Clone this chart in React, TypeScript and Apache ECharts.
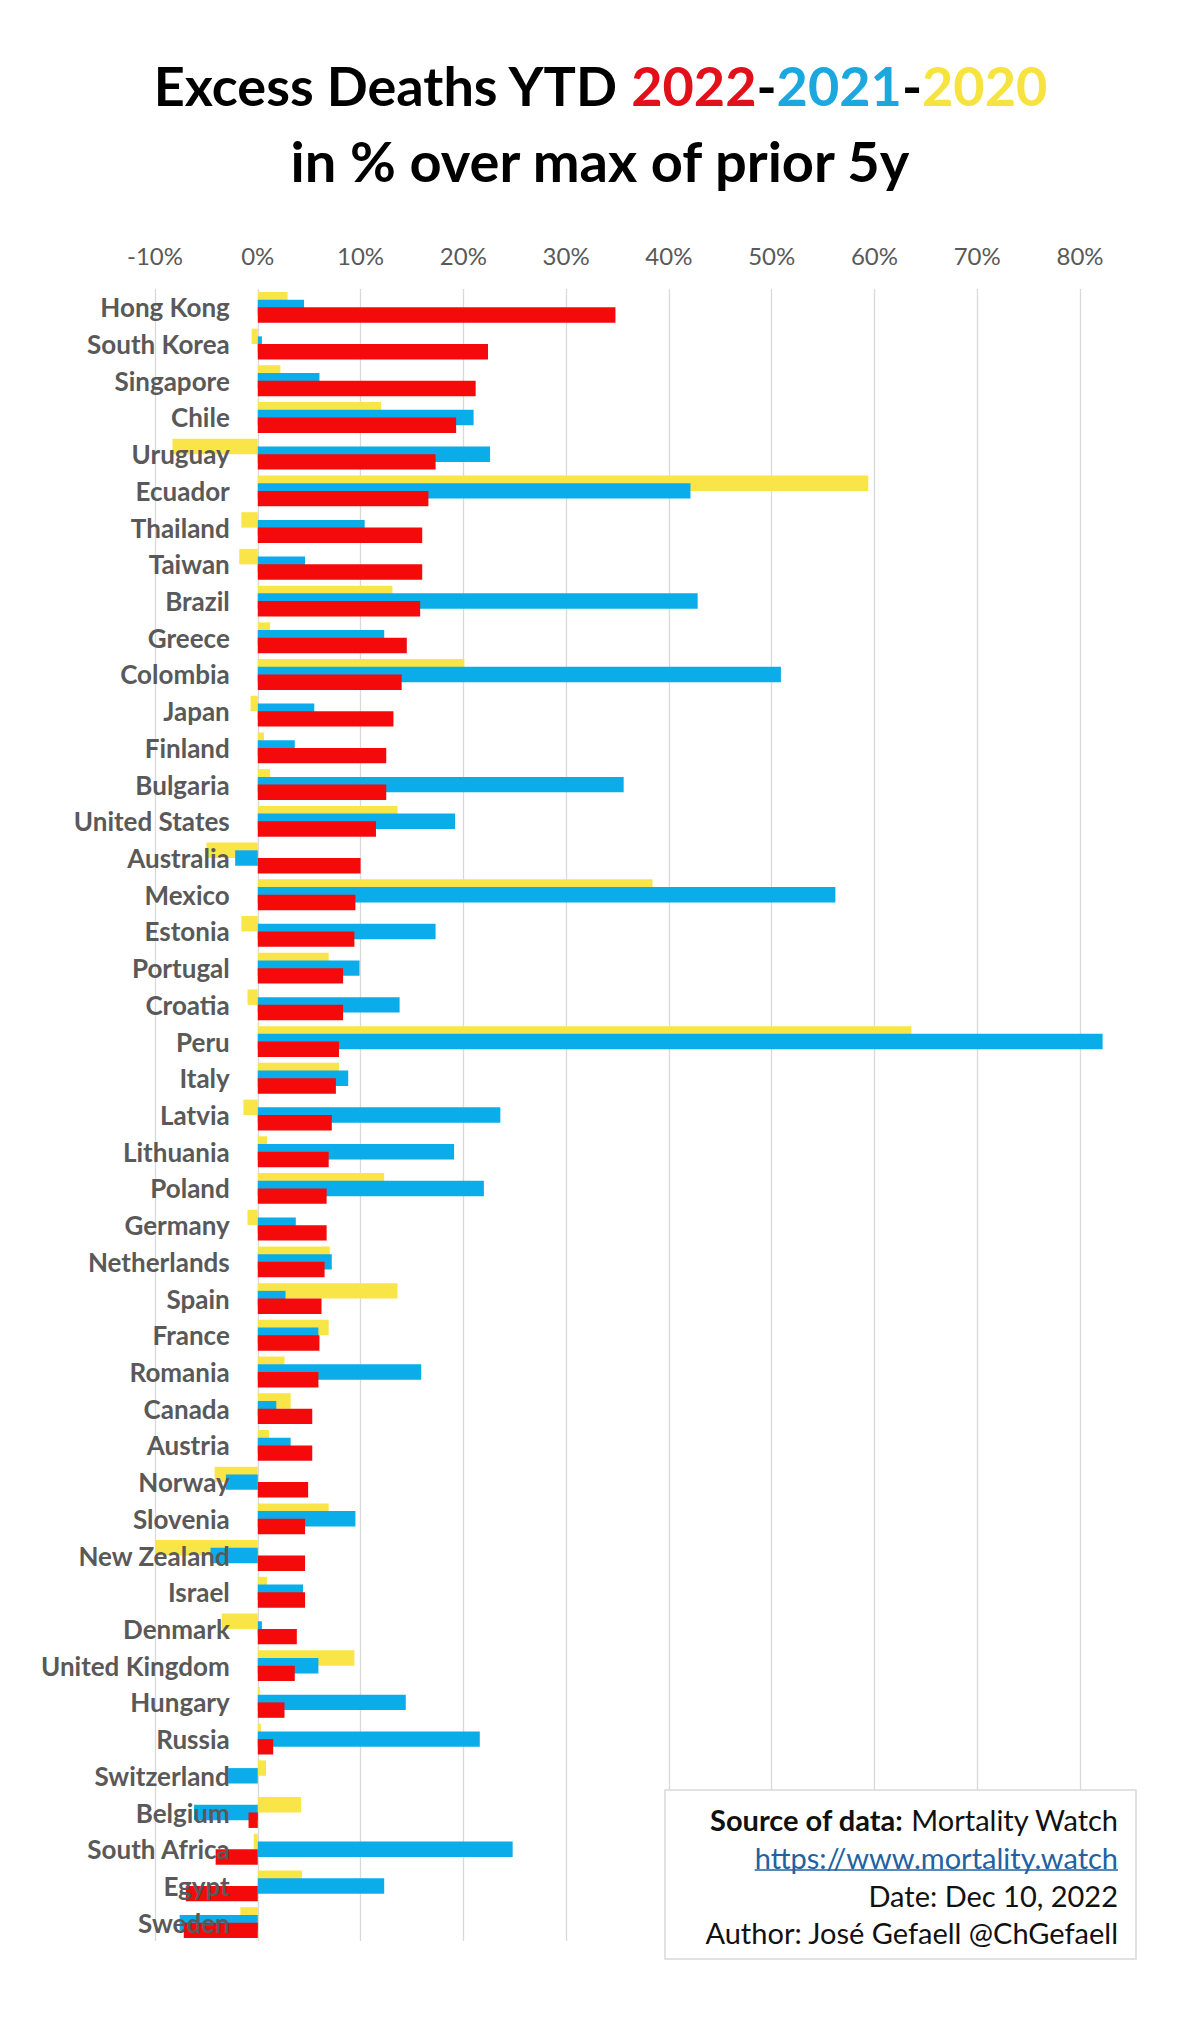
import React, { useEffect, useRef } from "react";
import * as echarts from "echarts";

const countries = [
  "Hong Kong", "South Korea", "Singapore", "Chile", "Uruguay", "Ecuador", "Thailand", "Taiwan",
  "Brazil", "Greece", "Colombia", "Japan", "Finland", "Bulgaria", "United States", "Australia",
  "Mexico", "Estonia", "Portugal", "Croatia", "Peru", "Italy", "Latvia", "Lithuania", "Poland",
  "Germany", "Netherlands", "Spain", "France", "Romania", "Canada", "Austria", "Norway",
  "Slovenia", "New Zealand", "Israel", "Denmark", "United Kingdom", "Hungary", "Russia",
  "Switzerland", "Belgium", "South Africa", "Egypt", "Sweden",
];

const y2020 = [
  2.9, -0.6, 2.2, 12.0, -8.3, 59.4, -1.6, -1.8,
  13.1, 1.2, 20.1, -0.7, 0.6, 1.2, 13.6, -5.0,
  38.4, -1.6, 6.9, -1.0, 63.6, 7.9, -1.4, 0.9, 12.3,
  -1.0, 7.0, 13.6, 6.9, 2.6, 3.2, 1.1, -4.2,
  6.9, -10.0, 0.9, -3.5, 9.4, 0.2, 0.3,
  0.8, 4.2, -0.4, 4.3, -1.7,
];

const y2021 = [
  4.5, 0.4, 6.0, 21.0, 22.6, 42.1, 10.4, 4.6,
  42.8, 12.3, 50.9, 5.5, 3.6, 35.6, 19.2, -2.2,
  56.2, 17.3, 9.9, 13.8, 82.2, 8.8, 23.6, 19.1, 22.0,
  3.7, 7.2, 2.7, 5.9, 15.9, 1.8, 3.2, -3.1,
  9.5, -4.6, 4.4, 0.4, 5.9, 14.4, 21.6,
  -2.9, -6.2, 24.8, 12.3, -7.6,
];

const y2022 = [
  34.8, 22.4, 21.2, 19.3, 17.3, 16.6, 16.0, 16.0,
  15.8, 14.5, 14.0, 13.2, 12.5, 12.5, 11.5, 10.0,
  9.5, 9.4, 8.3, 8.3, 7.9, 7.6, 7.2, 6.9, 6.7,
  6.7, 6.5, 6.2, 6.0, 5.9, 5.3, 5.3, 4.9,
  4.6, 4.6, 4.6, 3.8, 3.6, 2.6, 1.5,
  0.0, -0.9, -4.1, -7.0, -7.2,
];

const X_MIN = -10;
const X_MAX = 80;
const X_STEP = 10;

const RED = "#F40A0A";
const BLUE = "#0BACEA";
const YELLOW = "#F9E547";
const TITLE_RED = "#E3101A";
const TITLE_BLUE = "#1BA8DF";
const TITLE_YELLOW = "#F6E33E";
const GRAY_TEXT = "#595959";
const GRID_LINE = "#D9D9D9";
const FONT = "Lato, 'Open Sans', sans-serif";

const sourceLines = [
  "Source of data:",
  " Mortality Watch",
  "https://www.mortality.watch",
  "Date: Dec 10, 2022",
  "Author: José Gefaell @ChGefaell",
];

function measure(text: string, font: string): number {
  const c = document.createElement("canvas");
  const ctx = c.getContext("2d");
  if (!ctx) return text.length * 12;
  ctx.font = font;
  return ctx.measureText(text).width;
}

export default function App() {
  const ref = useRef<HTMLDivElement>(null);

  useEffect(() => {
    if (!ref.current) return;
    const chart = echarts.init(ref.current, undefined, { renderer: "svg" });

    const boxFontSize = 29;
    const textRight = 1118;
    const linkWidth = measure(sourceLines[2], `${boxFontSize}px Lato`);
    const titleSize = 54;

    const gridLeft = 155;
    const gridRight = 120;
    const plotWidth = 1200 - gridLeft - gridRight;
    // place the category axis on the 0% line (where the reference draws its labels)
    const zeroOffset = -plotWidth * (0 - X_MIN) / (X_MAX - X_MIN);

    const barCommon = {
      type: "bar" as const,
      barGap: "-50%",
      barCategoryGap: "16%",
      clip: false,
    };

    chart.setOption({
      animation: false,
      backgroundColor: "#ffffff",
      grid: {
        left: gridLeft,
        right: gridRight,
        top: 289,
        bottom: 78,
        containLabel: false,
        outerBoundsMode: "none",
      },
      xAxis: {
        type: "value",
        position: "top",
        min: X_MIN,
        max: X_MAX,
        interval: X_STEP,
        axisLine: { show: false },
        axisTick: { show: false },
        axisLabel: {
          formatter: "{value}%",
          color: GRAY_TEXT,
          fontSize: 24,
          fontFamily: FONT,
          margin: 22,
        },
        splitLine: { show: true, lineStyle: { color: GRID_LINE, width: 1.3 } },
      },
      yAxis: {
        type: "category",
        data: countries,
        inverse: true,
        position: "left",
        offset: zeroOffset,
        z: 10,
        axisLine: { show: false, onZero: false },
        axisTick: { show: false },
        splitLine: { show: false },
        axisLabel: {
          color: GRAY_TEXT,
          fontSize: 26,
          fontWeight: "bold",
          fontFamily: FONT,
          margin: 28,
          interval: 0,
        },
      },
      series: [
        { ...barCommon, name: "2020", data: y2020, z: 2, itemStyle: { color: YELLOW } },
        { ...barCommon, name: "2021", data: y2021, z: 3, itemStyle: { color: BLUE } },
        { ...barCommon, name: "2022", data: y2022, z: 4, itemStyle: { color: RED } },
      ],
      graphic: [
        {
          type: "text",
          x: 600,
          y: 85,
          style: {
            text: "{k|Excess Deaths YTD }{r|2022}{k|-}{b|2021}{k|-}{y|2020}",
            align: "center",
            verticalAlign: "middle",
            fontSize: titleSize,
            fontWeight: "bold",
            fontFamily: FONT,
            fill: "#000000",
            rich: {
              k: { fontSize: titleSize, fontWeight: "bold", fontFamily: FONT, fill: "#000000" },
              r: { fontSize: titleSize, fontWeight: "bold", fontFamily: FONT, fill: TITLE_RED },
              b: { fontSize: titleSize, fontWeight: "bold", fontFamily: FONT, fill: TITLE_BLUE },
              y: { fontSize: titleSize, fontWeight: "bold", fontFamily: FONT, fill: TITLE_YELLOW },
            },
          },
        },
        {
          type: "text",
          x: 600,
          y: 160,
          style: {
            text: "in % over max of prior 5y",
            align: "center",
            verticalAlign: "middle",
            fontSize: titleSize + 2,
            fontWeight: "bold",
            fontFamily: FONT,
            fill: "#000000",
          },
        },
        {
          type: "rect",
          z: 20,
          shape: { x: 665, y: 1790, width: 471, height: 169 },
          style: { fill: "#ffffff", stroke: "#D9D9D9", lineWidth: 1.5 },
        },
        {
          type: "text",
          z: 21,
          x: textRight,
          y: 1819,
          style: {
            text: `{b|${sourceLines[0]}}{n|${sourceLines[1]}}`,
            align: "right",
            verticalAlign: "middle",
            fontSize: boxFontSize,
            fontFamily: FONT,
            fill: "#111111",
            rich: {
              b: { fontSize: boxFontSize, fontWeight: "bold", fontFamily: FONT, fill: "#111111" },
              n: { fontSize: boxFontSize, fontFamily: FONT, fill: "#111111" },
            },
          },
        },
        {
          type: "text",
          z: 21,
          x: textRight,
          y: 1857,
          style: {
            text: sourceLines[2],
            align: "right",
            verticalAlign: "middle",
            fontSize: boxFontSize,
            fontFamily: FONT,
            fill: "#22629F",
          },
        },
        {
          type: "line",
          z: 21,
          shape: { x1: textRight - linkWidth, y1: 1870, x2: textRight, y2: 1870 },
          style: { stroke: "#22629F", lineWidth: 1.6 },
        },
        {
          type: "text",
          z: 21,
          x: textRight,
          y: 1895,
          style: {
            text: sourceLines[3],
            align: "right",
            verticalAlign: "middle",
            fontSize: boxFontSize,
            fontFamily: FONT,
            fill: "#111111",
          },
        },
        {
          type: "text",
          z: 21,
          x: textRight,
          y: 1932,
          style: {
            text: sourceLines[4],
            align: "right",
            verticalAlign: "middle",
            fontSize: boxFontSize,
            fontFamily: FONT,
            fill: "#111111",
          },
        },
      ],
    });

    return () => chart.dispose();
  }, []);

  return (
    <div
      ref={ref}
      style={{ position: "absolute", left: 0, top: 0, width: 1200, height: 2019, background: "#fff" }}
    />
  );
}
